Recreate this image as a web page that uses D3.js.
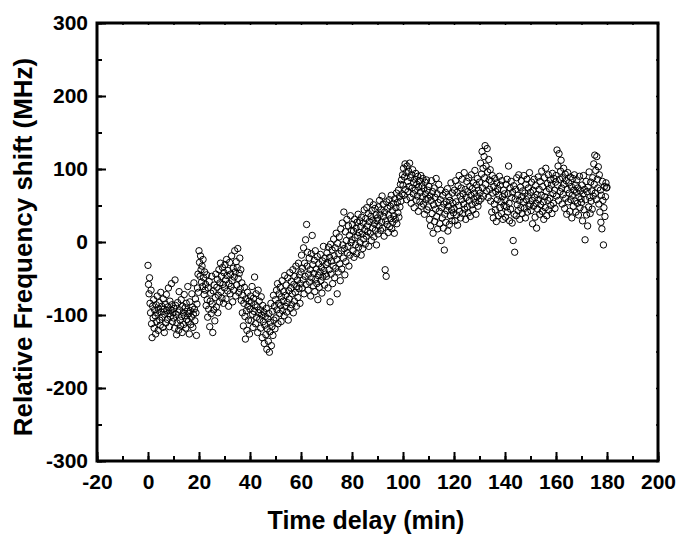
<!DOCTYPE html>
<html><head><meta charset="utf-8">
<script src="https://cdn.jsdelivr.net/npm/d3@7"></script>
<style>
body{margin:0;background:#fff}
text{font-family:"Liberation Sans",Arial,sans-serif;font-weight:bold;fill:#000}
</style>
</head><body>
<svg id="chart" width="679" height="535"></svg>
<script>
// ---- data (MHz) ----
const xTicks = [-20,0,20,40,60,80,100,120,140,160,180,200];
const yTicks = [-300,-200,-100,0,100,200,300];
const xTitle = "Time delay (min)";
const yTitle = "Relative Frequency shift (MHz)";
// each segment covers 10 minutes, samples evenly spaced inside it
const segStarts = [0,10,20,30,40,50,60,70,80,90,100,110,120,130,140,150,160,170];
const s000 = [-32,-58,-71,-49,-84,-97,-66,-112,-131,-88,-104,-79,-118,-93,-101,-126,-86,-109,-74,-97,-121,-92,-83,-107,-114,-69,-96,-88,-103,-117,-78,-92,-124,-99,-85,-111,-72,-94,-106,-89,-63,-98,-116,-81,-102,-93,-57,-86,-109,-97];
const s010 = [-104,-91,-118,-52,-87,-99,-127,-111,-83,-96,-121,-68,-93,-107,-115,-79,-102,-124,-88,-97,-113,-72,-101,-90,-118,-84,-106,-95,-61,-109,-98,-126,-82,-94,-113,-103,-71,-89,-117,-99,-56,-92,-108,-78,-97,-128,-85,-63,-44,-69];
const s020 = [-12,-28,-47,-19,-38,-55,-33,-61,-24,-49,-72,-41,-66,-58,-87,-45,-79,-103,-63,-92,-54,-116,-81,-70,-98,-47,-85,-124,-67,-93,-59,-108,-76,-44,-89,-62,-51,-97,-73,-38,-82,-56,-29,-68,-47,-77,-35,-58,-84,-42];
const s030 = [-63,-31,-52,-78,-24,-46,-67,-39,-88,-57,-28,-71,-44,-61,-19,-53,-82,-36,-66,-48,-12,-41,-74,-27,-59,-35,-9,-50,-69,-43,-22,-64,-38,-80,-56,-97,-73,-115,-84,-62,-102,-133,-78,-94,-121,-69,-88,-107,-81,-126];
const s040 = [-92,-74,-108,-83,-61,-99,-117,-77,-95,-48,-86,-112,-71,-103,-89,-124,-66,-97,-81,-106,-93,-118,-75,-100,-131,-87,-109,-96,-139,-114,-102,-127,-91,-147,-119,-105,-136,-98,-151,-123,-110,-84,-142,-116,-95,-128,-73,-107,-88,-119];
const s050 = [-79,-104,-66,-93,-57,-112,-84,-71,-98,-62,-87,-109,-75,-53,-94,-81,-68,-101,-46,-88,-73,-59,-96,-83,-49,-107,-67,-78,-42,-91,-63,-54,-86,-71,-38,-97,-58,-81,-47,-69,-33,-88,-61,-52,-76,-29,-64,-45,-84,-57];
const s060 = [-41,-18,-63,-36,-52,-8,-71,-29,-47,3,-58,24,-33,-14,-66,-44,-22,-55,-38,-74,-16,-49,9,-31,-60,-43,-25,-68,-12,-51,-37,-57,-20,-79,-46,-30,-62,-41,-17,-53,-35,-70,-26,-48,-6,-39,-59,-22,-44,-31];
const s070 = [-47,-15,-28,-63,-7,-38,-21,-82,-3,-44,-26,-11,-57,-33,4,-19,-49,-8,-36,12,-24,-71,-2,-41,-16,7,-30,-53,18,-12,-37,26,-4,-22,41,-9,-45,14,-27,2,31,-15,-6,22,-33,9,-18,36,-1,16];
const s080 = [3,24,-12,15,-21,31,6,-4,19,-16,27,9,38,-7,13,29,-1,21,-18,34,11,-9,26,4,44,17,-3,32,8,47,22,14,39,-6,28,55,12,35,2,43,19,30,51,7,25,46,16,37,-4,29];
const s090 = [33,11,48,22,57,38,16,44,27,63,19,52,35,8,41,-38,29,-47,55,24,46,13,37,58,21,49,32,64,18,43,27,53,36,12,59,31,47,67,25,54,40,71,34,62,48,79,56,85,66,92];
const s100 = [78,101,64,89,107,72,95,58,104,83,69,97,76,108,61,88,53,92,74,99,66,81,47,86,71,94,57,79,63,90,42,75,84,55,68,91,49,77,62,87,52,73,38,82,66,58,85,44,71,60];
const s110 = [48,76,31,63,22,57,84,39,69,12,51,74,28,61,45,87,35,66,18,54,79,42,25,58,71,2,47,33,64,19,52,-11,38,68,27,55,43,73,15,49,62,24,57,36,81,44,29,67,53,40];
const s120 = [46,71,29,84,55,37,68,23,77,50,91,42,63,33,74,58,86,39,66,52,95,45,72,31,61,83,48,69,40,88,57,76,35,64,92,51,73,44,81,59,67,98,54,38,78,62,87,49,71,56];
const s130 = [82,67,108,59,93,124,74,101,63,117,88,132,79,104,70,128,96,61,113,85,72,99,56,83,41,91,67,33,76,52,87,44,69,28,81,58,73,36,64,90,47,78,55,39,84,62,31,71,50,66];
const s140 = [57,34,79,48,86,41,66,104,53,29,74,45,83,61,26,68,2,77,38,-14,59,72,36,88,51,64,43,92,57,31,75,47,84,62,39,70,55,91,46,67,33,79,58,86,41,63,74,49,95,52];
const s150 = [68,43,82,57,25,71,49,86,61,34,77,53,19,65,45,89,58,72,38,83,51,64,97,42,76,55,31,88,62,47,101,69,36,80,57,92,44,73,60,85,50,78,39,94,66,53,87,71,46,82];
const s160 = [91,63,126,78,104,57,121,86,69,97,112,74,52,88,65,101,79,46,93,60,84,38,72,95,55,81,67,42,89,58,76,33,64,87,49,71,92,56,78,41,68,85,53,74,37,62,90,47,70,59];
const s170 = [54,78,29,66,91,44,72,3,58,83,37,69,22,75,48,96,61,39,82,56,70,45,88,63,107,79,119,67,98,58,117,86,74,103,52,92,41,71,27,64,18,83,57,-4,47,76,35,62,81,74];
const lastPoint = {t:180, v:75};

const segments = [s000,s010,s020,s030,s040,s050,s060,s070,s080,s090,s100,s110,s120,s130,s140,s150,s160,s170];
const points = [];
segments.forEach((seg,k)=>{
  seg.forEach((v,j)=>points.push({t: segStarts[k] + j*10/seg.length, v}));
});
points.push(lastPoint);

// ---- layout ----
const L=97, R=658, T=23, B=461;
const svg = d3.select("#chart");
const x = d3.scaleLinear().domain([-20,200]).range([L,R]);
const y = d3.scaleLinear().domain([-300,300]).range([B,T]);

const xMinor = d3.range(-20,201,10);
const yMinor = d3.range(-300,301,50);
const fmt = d => String(d);

function styleAxis(g, w){
  g.select(".domain").remove();
  g.selectAll(".tick line").attr("stroke","#000").attr("stroke-width",w);
  g.selectAll("text").attr("font-size",21).attr("font-family",null).attr("fill","#000");
}

// data
svg.append("g").selectAll("circle").data(points).join("circle")
  .attr("cx",d=>x(d.t)).attr("cy",d=>y(d.v)).attr("r",3.2)
  .attr("fill","none").attr("stroke","#000").attr("stroke-width",1);

// bottom
svg.append("g").attr("transform",`translate(0,${B})`)
  .call(d3.axisBottom(x).tickValues(xMinor).tickSize(-5).tickFormat(""))
  .call(g=>styleAxis(g,2));
svg.append("g").attr("transform",`translate(0,${B})`)
  .call(d3.axisBottom(x).tickValues(xTicks).tickSize(-9).tickPadding(13).tickFormat(fmt))
  .call(g=>styleAxis(g,2));
// left
svg.append("g").attr("transform",`translate(${L},0)`)
  .call(d3.axisLeft(y).tickValues(yMinor).tickSize(-5).tickFormat(""))
  .call(g=>styleAxis(g,2));
svg.append("g").attr("transform",`translate(${L},0)`)
  .call(d3.axisLeft(y).tickValues(yTicks).tickSize(-9).tickPadding(9).tickFormat(fmt))
  .call(g=>styleAxis(g,2));
// top & right tiny ticks
svg.append("g").attr("transform",`translate(0,${T})`)
  .call(d3.axisTop(x).tickValues(xMinor).tickSize(-2).tickFormat(""))
  .call(g=>styleAxis(g,1.5));
svg.append("g").attr("transform",`translate(${R},0)`)
  .call(d3.axisRight(y).tickValues(yMinor).tickSize(-2).tickFormat(""))
  .call(g=>styleAxis(g,1.5));

// frame
svg.append("rect").attr("x",L).attr("y",T).attr("width",R-L).attr("height",B-T)
  .attr("fill","none").attr("stroke","#000").attr("stroke-width",3);

// titles
svg.append("text").attr("x",366).attr("y",529).attr("text-anchor","middle")
  .attr("font-size",25).text(xTitle);
svg.append("text").attr("transform",`translate(32,247) rotate(-90)`)
  .attr("text-anchor","middle").attr("font-size",26).text(yTitle);
</script>
</body></html>
